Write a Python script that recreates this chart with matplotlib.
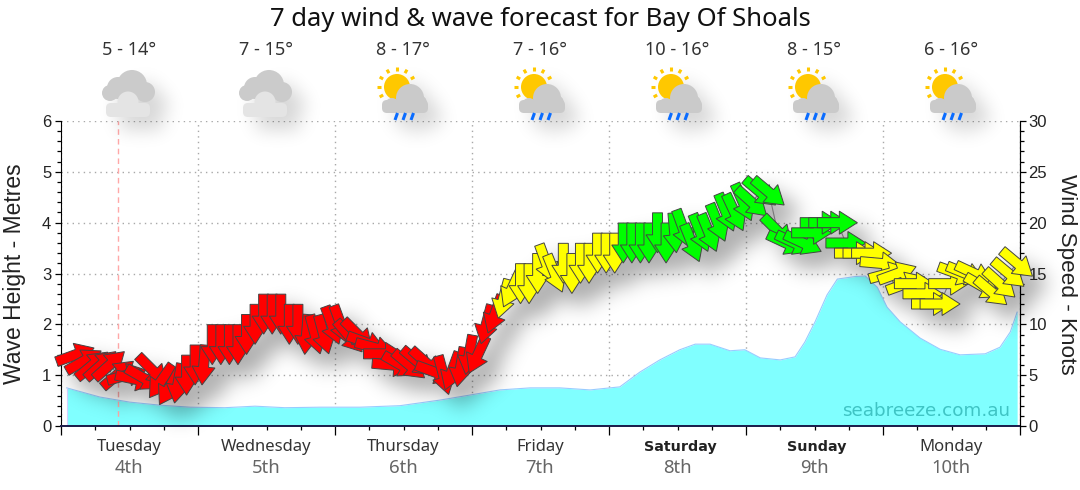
import numpy as np
import matplotlib
matplotlib.use("Agg")
import matplotlib.pyplot as plt
from matplotlib.patches import Polygon, Circle, FancyBboxPatch
from matplotlib.transforms import Affine2D, ScaledTranslation
from matplotlib.ticker import MultipleLocator, NullFormatter

# hours since the start of Tuesday
wind_hours = [2.5, 4, 5.5, 7, 8.5, 10, 11.5, 13, 14.5, 16,
              17.5, 19, 20.5, 22, 23.5, 25, 26.5, 28, 29.5, 31,
              32.5, 34, 35.5, 37, 38.5, 40, 41.5, 43, 44.5, 46,
              47.5, 49, 50.5, 52, 53.5, 55, 56.5, 58, 59.5, 61,
              62.5, 64, 65.5, 67, 68.5, 70, 71.5, 73, 74.5, 76,
              77.5, 79, 80.5, 82, 83.5, 85, 86.5, 88, 89.5, 91,
              92.5, 94, 95.5, 97, 98.5, 100, 101.5, 103, 104.5, 106,
              107.5, 109, 110.5, 112, 113.5, 115, 116.5, 118, 119.5, 121,
              122.5, 124, 125.5, 127, 128.5, 130, 131.5, 133, 134.5, 136,
              137.5, 139, 140.5, 142, 143.5, 145, 146.5, 148, 149.5, 151,
              152.5, 154, 155.5, 157, 158.5, 160, 161.5, 163, 164.5, 166,
              167.5]
wind_speed = [7.0, 6.4, 6, 6, 6, 5.1, 5, 4.6, 4.7, 5.5,
              4.4, 3.8, 4.2, 5, 6, 6, 8, 8, 8, 8,
              9, 10, 11, 11, 11, 10, 10, 9, 9, 9,
              9.9, 10, 8.8, 9, 8.2, 7.7, 7.1, 6, 6, 6,
              6.3, 6.2, 5.3, 5, 5.4, 5.8, 7, 7, 10, 11,
              12.5, 13.5, 14, 14, 15, 16, 15, 16, 15, 16,
              16, 17, 17, 17, 18, 18, 18, 18, 19, 18,
              19, 19.4, 18, 19, 19, 20, 21, 21, 22, 22,
              23, 23, 19.2, 18, 18, 18, 19, 20, 20, 20,
              18, 17, 17, 17, 16, 15, 15, 14, 14, 13,
              12, 12, 14, 15, 15, 15, 13.7, 13.2, 14, 15,
              16]
# direction the arrow points, degrees anticlockwise from east
wind_dir = [20, 30, 40, 42, 42, 40, 15, -12, -30, -45,
            -125, -120, -100, -90, -90, -95, -90, -90, -90, -90,
            -90, -90, -90, -90, -90, -90, -90, -95, -75, -75,
            -70, -70, -50, -45, -20, -15, 0, -5, -30, -40,
            -40, -42, -20, -75, -110, -100, -100, -115, -105, -110,
            -105, -115, -90, -90, -90, -70, -68, -90, -90, -90,
            -90, -90, -90, -90, -90, -90, -90, -90, -90, -90,
            -85, -70, -68, -68, -68, -68, -68, -65, -66, -42,
            -40, -40, -45, -25, -25, -25, 0, 0, 0, 0,
            0, 0, 0, 0, -5, 15, 20, 20, 0, 0,
            0, 0, 0, -20, -22, -25, -30, -40, -42, -40,
            -40]

wave_hours = [1, 6.8, 12, 17.3, 22.6, 28.7, 34, 39.2, 45.4, 52.4, 59.4, 66.4,
              71.7, 76.9, 82.2, 87.4, 92.7, 97.9, 101.4, 104.9, 108.4, 111.1,
              113.7, 117.2, 119.8, 122.5, 126, 128.6, 130.3, 132.1, 134.2,
              136, 139.1, 140.9, 143, 144.7, 147, 150.5, 154, 157.5, 161.9, 164.5, 166.3,
              167.5]
wave_height = [0.75, 0.57, 0.47, 0.41, 0.37, 0.36, 0.39, 0.36, 0.37, 0.37, 0.40, 0.51,
               0.61, 0.71, 0.75, 0.75, 0.71, 0.77, 1.06, 1.30, 1.50, 1.61,
               1.61, 1.48, 1.50, 1.34, 1.30, 1.36, 1.65, 2.05, 2.58,
               2.89, 2.94, 2.95, 2.73, 2.34, 2.05, 1.73, 1.51, 1.40, 1.42, 1.55, 1.85,
               2.24]

days = ["Tuesday", "Wednesday", "Thursday", "Friday", "Saturday", "Sunday", "Monday"]
dates = ["4th", "5th", "6th", "7th", "8th", "9th", "10th"]
bold_days = ["Saturday", "Sunday"]
temps = ["5 - 14°", "7 - 15°", "8 - 17°", "7 - 16°", "10 - 16°", "8 - 15°", "6 - 16°"]
icons = ["cloud", "cloud", "rain", "rain", "rain", "rain", "rain"]
day_px = [129, 266, 403, 540, 677, 814, 951]

W, H = 1080, 490
AX_RECT = [61 / W, (H - 426) / H, 959 / W, 305 / H]
ARROW = [(-20, -5), (2, -5), (2, -11.5), (20, 0), (2, 11.5), (2, 5), (-20, 5)]


def wind_colour(speed):
    if speed < 12:
        return "#ff0000"
    if speed < 18:
        return "#ffff00"
    return "#00ff00"


def draw_arrows(ax, black=False):
    for t, v, d in zip(wind_hours, wind_speed, wind_dir):
        tr = Affine2D().rotate_deg(d) + ScaledTranslation(t, v, ax.transData)
        ax.add_patch(Polygon(ARROW, closed=True, transform=tr, clip_on=False,
                             facecolor="black" if black else wind_colour(v),
                             edgecolor="black" if black else "#444444",
                             linewidth=0.7, zorder=5))


def draw_icon(ax, kind, xc):
    if kind == "cloud":
        for dx, y, r in [(3, 85, 15), (-11, 88, 11), (16, 92, 10), (-19, 93, 8)]:
            ax.add_patch(Circle((xc + dx, y), r, fc="#cbcbcb", ec="none"))
        ax.add_patch(Circle((xc - 1, 102), 10.5, fc="#e4e4e4", ec="none"))
        ax.add_patch(FancyBboxPatch((xc - 18, 108), 34, 4, boxstyle="round,pad=5",
                                    fc="#e4e4e4", ec="none"))
    else:
        xs, ys = xc - 6, 87
        ax.add_patch(Circle((xs, ys), 13, fc="#ffc800", ec="none"))
        for a in [90, 60, 120, 30, 150, 180, 210]:
            c, s = np.cos(np.radians(a)), np.sin(np.radians(a))
            ax.plot([xs + 16 * c, xs + 20 * c], [ys - 16 * s, ys - 20 * s],
                    color="#ffc800", lw=2.2, solid_capstyle="butt")
        for dx, y, r in [(7, 98, 14), (-11, 105, 7), (16, 103, 8)]:
            ax.add_patch(Circle((xc + dx, y), r, fc="#cacaca", ec="none"))
        ax.add_patch(FancyBboxPatch((xc - 16, 105), 36, 3, boxstyle="round,pad=5",
                                    fc="#cacaca", ec="none"))
        for dx in [-7, 1, 9]:
            ax.plot([xc + dx + 1.5, xc + dx - 1], [113, 120], color="#0a6cff",
                    lw=2.2, solid_capstyle="butt")


def pixel_axes(fig, zorder):
    pix = fig.add_axes([0, 0, 1, 1], zorder=zorder)
    pix.set_xlim(0, W)
    pix.set_ylim(H, 0)
    pix.axis("off")
    return pix


def blurred_mask(with_arrows, shift, sigma):
    # draw the marks in black off screen, then shift and blur them
    scratch = plt.figure(figsize=(W / 100, H / 100), dpi=100)
    if with_arrows:
        sax = scratch.add_axes(AX_RECT)
        sax.set_xlim(0, 168)
        sax.set_ylim(0, 30)
        sax.axis("off")
        draw_arrows(sax, black=True)
    else:
        pix = pixel_axes(scratch, 3)
        for kind, xc in zip(icons, day_px):
            draw_icon(pix, kind, xc)
    scratch.canvas.draw()
    mask = np.asarray(scratch.canvas.buffer_rgba())[:, :, :3].min(axis=2) < 250
    plt.close(scratch)
    mask = np.roll(np.roll(mask.astype(float), shift, axis=0), shift, axis=1)
    x = np.arange(-30, 31)
    kernel = np.exp(-x ** 2 / (2 * sigma ** 2))
    kernel /= kernel.sum()
    blur = np.apply_along_axis(lambda r: np.convolve(r, kernel, mode="same"), 0, mask)
    return np.apply_along_axis(lambda r: np.convolve(r, kernel, mode="same"), 1, blur)


def make_shadow():
    rgba = np.zeros((H, W, 4))
    rgba[:, :, 3] = (np.clip(blurred_mask(True, 14, 10.0), 0, 1) * 0.32
                     + np.clip(blurred_mask(False, 13, 9.0), 0, 1) * 0.16)
    return rgba


plt.rcParams["font.family"] = "Noto Sans"
fig = plt.figure(figsize=(W / 100, H / 100), dpi=100, facecolor="white")

# left axis holds the wave area and the grid
ax = fig.add_axes(AX_RECT, zorder=1)
ax.set_xlim(0, 168)
ax.set_ylim(0, 6)
ax.fill_between(wave_hours, wave_height, color="#80ffff", linewidth=0)
ax.plot(wave_hours, wave_height, color="#99ccff", lw=0.8)
ax.plot([wave_hours[0], wave_hours[0]], [0, wave_height[0]], color="#d0d0ff", lw=0.8)
ax.axvline(10, color="#ffa8a8", lw=1, ls=(0, (4, 3)))
ax.grid(True, which="major", color="#a8a8a8", ls=(0, (1, 3)), lw=1)
ax.set_axisbelow(True)
ax.xaxis.set_major_locator(MultipleLocator(24))
ax.xaxis.set_minor_locator(MultipleLocator(6))
ax.xaxis.set_major_formatter(NullFormatter())
ax.yaxis.set_major_locator(MultipleLocator(1))
ax.yaxis.set_minor_locator(MultipleLocator(0.2))
ax.tick_params(axis="x", which="major", length=6.5, width=0.9, color="black")
ax.tick_params(axis="x", which="minor", length=3, width=0.9, color="black")
ax.tick_params(axis="y", which="major", length=4, width=0.9, pad=3)
ax.tick_params(axis="y", which="minor", length=3, width=0.9)
for lab in ax.get_yticklabels():
    lab.set_family("Liberation Sans")
    lab.set_fontsize(12)
    lab.set_color("#222222")
ax.spines["top"].set_visible(False)
ax.spines["bottom"].set_color("#1a1a4a")
ax.spines["bottom"].set_linewidth(1.4)
ax.text(0.9895, 0.05, "seabreeze.com.au", transform=ax.transAxes, ha="right", va="center",
        family="DejaVu Sans", fontsize=13.2, color="#3fc4c4")

# the blurred shadow goes between the two axes
fig.figimage(make_shadow(), zorder=2, origin="upper")

# right axis holds the wind arrows
ax2 = fig.add_axes(AX_RECT, zorder=3)
ax2.patch.set_visible(False)
ax2.set_xlim(0, 168)
ax2.set_ylim(0, 30)
ax2.xaxis.set_visible(False)
ax2.yaxis.tick_right()
ax2.yaxis.set_major_locator(MultipleLocator(5))
ax2.yaxis.set_minor_locator(MultipleLocator(1))
ax2.tick_params(axis="y", which="major", length=4.5, width=0.9, pad=1.5)
ax2.tick_params(axis="y", which="minor", length=3, width=0.9)
for lab in ax2.get_yticklabels():
    lab.set_family("Liberation Sans")
    lab.set_fontsize(12)
    lab.set_color("#222222")
for side in ["top", "left", "bottom"]:
    ax2.spines[side].set_visible(False)
ax2.plot(wind_hours, wind_speed, color="#777777", lw=0.8, zorder=2)
draw_arrows(ax2)

# text and icons, placed in pixels
pix = pixel_axes(fig, 4)
pix.text(540, 20, "7 day wind & wave forecast for Bay Of Shoals", ha="center", va="center",
         fontsize=18.5, color="#111111")
for name, date, temp, kind, xc in zip(days, dates, temps, icons, day_px):
    pix.text(xc, 50, temp, ha="center", va="center", fontsize=13, color="#333333")
    draw_icon(pix, kind, xc)
    if name in bold_days:
        pix.text(xc + 3, 447, name, ha="center", va="center", family="DejaVu Sans",
                 fontsize=10.3, fontweight="bold", color="#222222")
    else:
        pix.text(xc, 447, name, ha="center", va="center", fontsize=12, color="#333333")
    pix.text(xc, 468, date, ha="center", va="center", fontsize=13.3, color="#666666")
pix.text(15, 274, "Wave Height - Metres", rotation=90, ha="center", va="center",
         family="Liberation Sans", fontsize=16.5, color="#222222")
pix.text(1066, 274, "Wind Speed - Knots", rotation=270, ha="center", va="center",
         family="Liberation Sans", fontsize=16.2, color="#222222")

fig.savefig("out.png", dpi=100)
